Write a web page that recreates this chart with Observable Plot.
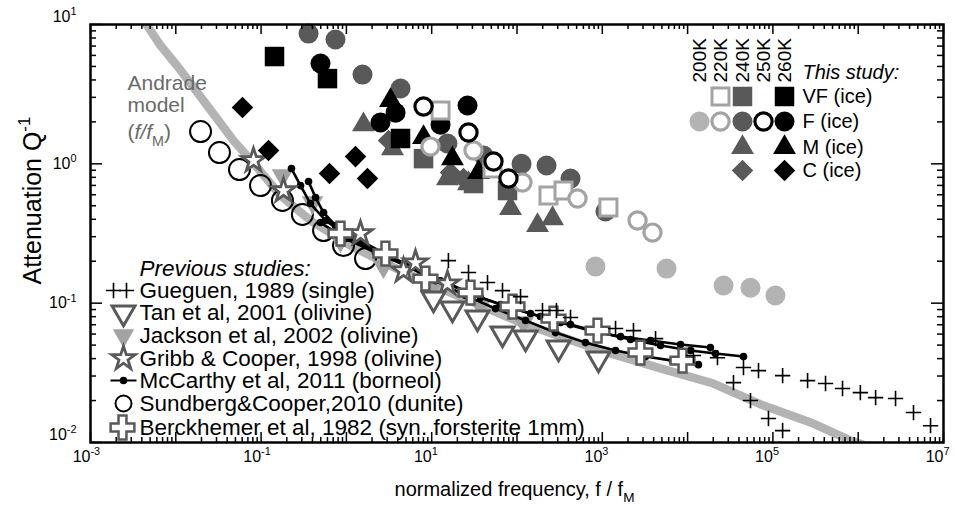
<!DOCTYPE html>
<html><head><meta charset="utf-8">
<script src="https://cdn.jsdelivr.net/npm/d3@7"></script>
<script src="https://cdn.jsdelivr.net/npm/@observablehq/plot@0.6"></script>
<style>
html,body{margin:0;padding:0;background:#fff;}
#chart svg{display:block;}
</style></head><body><div id="chart"></div>
<script>
// ---------- DATA: [normalized frequency f/fM, attenuation Q^-1] ----------
const andrade = [[4.53e-3,10],[6.62e-3,7.06],[1.076e-2,4.91],[2.11e-2,2.84],[4.74e-2,1.47],[8.59e-2,0.973],[0.169,0.592],[0.379,0.392],[1.117,0.259],[4.31,0.171],[16.6,0.119],[110,0.0726],[953,0.0457],[4810,0.0340],[20100,0.0265],[77600,0.0184],[299000,0.01368],[813000,0.01033],[1.12e6,0.00966]];

// This study (ice)
const vf260 = [[0.1436,5.89],[0.600,4.09],[4.31,1.52]];
const f260  = [[0.497,5.25],[2.51,1.98],[3.77,2.33],[26.3,2.62],[12.7,1.91]];
const m260  = [[3.29,2.85],[8.02,1.545],[17.5,1.09],[35.4,0.867]];
const c260  = [[0.0605,2.54],[0.1222,1.245],[0.634,0.851],[1.279,1.127],[1.766,0.784]];
const f240  = [[0.360,8.61],[0.745,7.80],[1.545,4.37],[4.31,3.47],[15.3,1.40],[40.5,1.148],[113,1.00],[222,0.973],[424,0.784],[1090,0.455]];
const vf240 = [[8.02,1.09],[30.9,0.722],[77.4,0.643]];
const m240  = [[1.585,1.91],[3.47,1.288],[15.3,0.784],[27.0,0.722],[83.9,0.478],[174,0.361],[261,0.405]];
const c240  = [[3.12,1.47],[16.6,0.867],[23.6,0.784]];
const vf220 = [[12.7,2.41],[51.6,0.925],[234,0.592],[351,0.643],[1180,0.486]];
const f220  = [[9.68,1.33],[30.9,1.245],[116,0.734],[512,0.564],[2590,0.392],[3880,0.321]];
const f250  = [[8.02,2.58],[27.0,1.68],[53.0,1.04],[79.4,0.784]];
const f200  = [[832,0.183],[5660,0.177],[26400,0.134],[54600,0.129],[107000,0.1135]];

// Previous studies
const gueguen = [[15.7,0.202],[27.0,0.166],[45.1,0.1406],[67.6,0.123],[110,0.1114],[199,0.0885],[290,0.0885],[424,0.0789],[1430,0.0658],[2320,0.0635],[4210,0.0557],[11700,0.0421],[22400,0.0406],[45200,0.0345],[67800,0.0328],[130000,0.0302],[255000,0.0278],[414000,0.0265],[655000,0.0244],[1.06e6,0.0228],[1.60e6,0.0210],[2.74e6,0.0207],[4.45e6,0.0164],[7.05e6,0.0132],[34500,0.0269],[54600,0.0200],[88700,0.01486],[130000,0.01216]];
const tan = [[10.5,0.1079],[17.5,0.0914],[34.4,0.0789],[67.6,0.0605],[126,0.0566],[307,0.0480],[902,0.0400]];
const jackson = [[0.178,0.824],[0.401,0.527],[0.853,0.281],[2.72,0.183],[9.68,0.123],[37.3,0.0962],[119,0.0726]];
const gribb = [[0.0815,1.057],[0.183,0.643],[1.462,0.316],[4.67,0.171],[6.46,0.195],[15.3,0.138]];
const mcCarthyA = [[0.227,0.925],[0.290,0.698],[0.379,0.519],[0.569,0.392],[1.117,0.291],[2.51,0.227],[5.64,0.183],[12.7,0.145],[28.5,0.117],[64.1,0.0977],[144,0.0842],[324,0.0726],[728,0.0635],[1635,0.0575],[3670,0.0540],[8260,0.0505],[18500,0.0480]];
const mcCarthyB = [[0.360,0.746],[0.435,0.573],[0.540,0.447],[0.745,0.361],[1.462,0.281],[3.29,0.216],[7.40,0.171],[16.6,0.136],[37.3,0.1096],[83.9,0.0929],[188,0.0802],[424,0.0702],[953,0.0615],[2140,0.0548],[4810,0.0497],[10800,0.0457],[21200,0.0435],[45200,0.0414]];
const mcCarthyC = [[0.497,0.379],[0.975,0.291],[2.19,0.231],[4.93,0.186],[11.1,0.145],[24.9,0.1135],[56.0,0.0914],[126,0.0750],[283,0.0615],[635,0.0521],[1430,0.0457],[3210,0.0414],[6650,0.0387],[13400,0.0362]];
const sundberg = [[0.0195,1.706],[0.0325,1.205],[0.0558,0.910],[0.0984,0.698],[0.178,0.546],[0.305,0.433],[0.540,0.332],[0.925,0.259],[1.675,0.209]];
const berckhemer = [[0.853,0.316],[2.87,0.227],[8.45,0.150],[28.5,0.119],[88.5,0.0946],[268,0.0775],[879,0.0635],[2800,0.0442],[8710,0.0387]];

// Axes
const xDomain = [1e-3, 1e7];
const yDomain = [1e-2, 10];
const xLabelTicks = [1e-3, 1e-1, 1e1, 1e3, 1e5, 1e7];
const yLabelTicks = [1e-1, 1];
const yLabelEnds = [1e-2, 10];

// Legend texts
const temps = ["200K","220K","240K","250K","260K"];
const iceRows = ["VF (ice)","F (ice)","M (ice)","C (ice)"];
const previousLabels = ["Gueguen, 1989 (single)","Tan et al, 2001 (olivine)","Jackson et al, 2002 (olivine)","Gribb & Cooper, 1998 (olivine)","McCarthy et al, 2011 (borneol)","Sundberg&Cooper,2010 (dunite)","Berckhemer et al, 1982 (syn. forsterite 1mm)"];

// ---------- LAYOUT / STYLE ----------
const W = 955, H = 507, ML = 90, MR = 12, MT = 24, MB = 65;
const FW = W - ML - MR, FH = H - MT - MB;
const FONT = '"Liberation Sans", Arial, Helvetica, sans-serif';
const DARK = "#595959", LIGHT = "#b3b3b3", MID = "#a3a3a3";

const styles = {
  vf220: {symbol:"square", r:9.6, fill:"white", stroke:MID, strokeWidth:3},
  vf240: {symbol:"square", r:11, fill:DARK},
  vf260: {symbol:"square", r:11, fill:"black"},
  f200: {symbol:"circle", r:10, fill:LIGHT},
  f220: {symbol:"circle", r:8.6, fill:"white", stroke:MID, strokeWidth:3.2},
  f240: {symbol:"circle", r:10, fill:DARK},
  f250: {symbol:"circle", r:8.6, fill:"white", stroke:"black", strokeWidth:3.2},
  f260: {symbol:"circle", r:10, fill:"black"},
  m240: {symbol:"triangle", r:8.5, fill:DARK},
  m260: {symbol:"triangle", r:8.5, fill:"black"},
  c240: {symbol:"square", rotate:45, r:8.6, fill:DARK},
  c260: {symbol:"square", rotate:45, r:8.6, fill:"black"},
  gueguen: {symbol:"plus", r:5, fill:"none", stroke:"black", strokeWidth:1.6},
  tan: {symbol:"triangle", rotate:180, r:8.5, fill:"white", stroke:DARK, strokeWidth:3},
  jackson: {symbol:"triangle", rotate:180, r:8, fill:MID},
  gribb: {symbol:"star", r:7.4, fill:"white", stroke:DARK, strokeWidth:2.8},
  mccarthy: {symbol:"circle", r:3.8, fill:"black"},
  sundberg: {symbol:"circle", r:10.5, fill:"none", stroke:"black", strokeWidth:2},
  berckhemer: {symbol:"cross", r:10, fill:"white", stroke:DARK, strokeWidth:2.5}
};

const X = d => d[0], Y = d => d[1];
const pts = (data, key) => Plot.dot(data, {x: X, y: Y, ...styles[key]});
const at = (px, py) => ({frameAnchor: "top-left", dx: px - ML, dy: py - MT});
const legendDot = (key, px, py, extra = {}) => Plot.dot([0], {...at(px, py), ...styles[key], ...extra});
const label = (txt, px, py, opts = {}) => Plot.text([txt], {...at(px, py), text: d => d, fill: "black", textAnchor: "middle", lineAnchor: "middle", ...opts});

// tick values
const xMajor = d3.range(-3, 8).map(e => 10 ** e);
const yMajor = d3.range(-2, 2).map(e => 10 ** e);
const xMinor = [], yMinor = [];
for (let e = -3; e < 7; e++) for (let m = 2; m < 10; m++) xMinor.push(m * 10 ** e);
for (let e = -2; e < 1; e++) for (let m = 2; m < 10; m++) yMinor.push(m * 10 ** e);
const fmt = d => `10^{${Math.round(Math.log10(d))}}`;

const tickStyle = {stroke: "black", strokeWidth: 1.5};
const ticks = [
  Plot.tickX(xMajor, {x: d => d, insetTop: FH - 10, ...tickStyle}),
  Plot.tickX(xMinor, {x: d => d, insetTop: FH - 5, ...tickStyle}),
  Plot.tickX(xMajor, {x: d => d, insetBottom: FH - 10, ...tickStyle}),
  Plot.tickX(xMinor, {x: d => d, insetBottom: FH - 5, ...tickStyle}),
  Plot.tickY(yMajor, {y: d => d, insetRight: FW - 12, ...tickStyle}),
  Plot.tickY(yMinor, {y: d => d, insetRight: FW - 6, ...tickStyle}),
  Plot.tickY(yMajor, {y: d => d, insetLeft: FW - 12, ...tickStyle}),
  Plot.tickY(yMinor, {y: d => d, insetLeft: FW - 6, ...tickStyle})
];

// legend geometry
const colX = [699, 720, 742, 763, 784];
const rowY = [96, 121, 147, 170];
const prevRowY = [290, 312, 335, 358, 380, 403, 427];
const mcLegendSymbol = {draw(ctx) { ctx.moveTo(-13, 0); ctx.lineTo(13, 0); }};

const marks = [
  Plot.line(andrade, {x: X, y: Y, stroke: LIGHT, strokeWidth: 8.5, clip: true}),
  pts(sundberg, "sundberg"),
  pts(jackson, "jackson"),
  ...[mcCarthyA, mcCarthyB, mcCarthyC].flatMap(s => [
    Plot.line(s, {x: X, y: Y, stroke: "black", strokeWidth: 2.6}),
    pts(s, "mccarthy")
  ]),
  pts(gribb, "gribb"),
  pts(tan, "tan"),
  pts(berckhemer, "berckhemer"),
  pts(gueguen, "gueguen"),
  pts(f240, "f240"), pts(vf240, "vf240"), pts(m240, "m240"), pts(c240, "c240"),
  pts(f200, "f200"),
  pts(vf260, "vf260"), pts(f260, "f260"), pts(m260, "m260"), pts(c260, "c260"),
  pts(vf220, "vf220"), pts(f220, "f220"), pts(f250, "f250"),
  ...ticks,
  Plot.frame({stroke: "black", strokeWidth: 2.5}),
  // tick labels
  Plot.text(xLabelTicks, {x: d => d, frameAnchor: "bottom", dy: 14, dx: -17.8, textAnchor: "start", lineAnchor: "middle", text: fmt, fontSize: 16, fill: "black"}),
  Plot.text(yLabelTicks, {y: d => d, frameAnchor: "left", dx: -14, textAnchor: "end", lineAnchor: "middle", text: fmt, fontSize: 16, fill: "black"}),
  Plot.text(yLabelEnds, {y: d => d, frameAnchor: "left", dx: -14, dy: -8, textAnchor: "end", lineAnchor: "middle", text: fmt, fontSize: 16, fill: "black"}),
  // axis titles
  label("Attenuation Q^{-1}", 32, 200, {rotate: -90, fontSize: 25}),
  label("normalized frequency, f / f_{M}", 514, 489, {fontSize: 20}),
  // Andrade annotation
  label("Andrade", 127, 83, {textAnchor: "start", fontSize: 21, fill: "#6a6a6a"}),
  label("model", 127, 105, {textAnchor: "start", fontSize: 21, fill: "#6a6a6a"}),
  label("(*f/f*_{M})", 127, 132, {textAnchor: "start", fontSize: 21, fill: "#6a6a6a"}),
  // This study legend
  ...temps.map((t, i) => label(t, colX[i], 82, {rotate: -90, textAnchor: "start", fontSize: 19})),
  label("This study:", 802, 72, {textAnchor: "start", fontSize: 20, fontStyle: "italic"}),
  ...iceRows.map((t, i) => label(t, 802, rowY[i], {textAnchor: "start", fontSize: 20})),
  legendDot("vf220", colX[1], rowY[0]), legendDot("vf240", colX[2], rowY[0]), legendDot("vf260", colX[4], rowY[0]),
  legendDot("f200", colX[0], rowY[1]), legendDot("f220", colX[1], rowY[1]), legendDot("f240", colX[2], rowY[1]),
  legendDot("f250", colX[3], rowY[1]), legendDot("f260", colX[4], rowY[1]),
  legendDot("m240", colX[2], rowY[2]), legendDot("m260", colX[4], rowY[2]),
  legendDot("c240", colX[2], rowY[3]), legendDot("c260", colX[4], rowY[3]),
  // Previous studies legend
  label("Previous studies:", 139, 268, {textAnchor: "start", fontSize: 22.5, fontStyle: "italic"}),
  ...previousLabels.map((t, i) => label(t, 139, prevRowY[i], {textAnchor: "start", fontSize: 22.5})),
  legendDot("gueguen", 113, prevRowY[0]), legendDot("gueguen", 126, prevRowY[0]),
  legendDot("tan", 123, prevRowY[1]),
  legendDot("jackson", 123, prevRowY[2]),
  legendDot("gribb", 123, prevRowY[3]),
  legendDot("mccarthy", 123, prevRowY[4], {symbol: mcLegendSymbol, fill: "none", stroke: "black", strokeWidth: 2}),
  legendDot("mccarthy", 123, prevRowY[4]),
  legendDot("sundberg", 123, prevRowY[5], {r: 8}),
  legendDot("berckhemer", 122, prevRowY[6])
];

const svg = Plot.plot({
  width: W, height: H,
  marginLeft: ML, marginRight: MR, marginTop: MT, marginBottom: MB,
  style: {fontFamily: FONT, background: "white", overflow: "visible"},
  x: {type: "log", domain: xDomain, axis: null},
  y: {type: "log", domain: yDomain, axis: null},
  marks
});
document.getElementById("chart").appendChild(svg);

// Rich text: ^{sup}, _{sub}, *italic*
function richify(root) {
  root.querySelectorAll("text").forEach(t => {
    const s = t.textContent;
    if (!/[\^_]\{|\*/.test(s)) return;
    const fs = parseFloat(getComputedStyle(t).fontSize) || 16;
    const parts = s.split(/(\^\{[^}]*\}|_\{[^}]*\}|\*[^*]*\*)/).filter(p => p !== "");
    t.textContent = "";
    let shift = 0;
    for (const p of parts) {
      const ts = document.createElementNS("http://www.w3.org/2000/svg", "tspan");
      let target = 0, txt = p;
      if (p.startsWith("^{")) { txt = p.slice(2, -1); target = -0.42 * fs; ts.setAttribute("font-size", (0.68 * fs) + "px"); }
      else if (p.startsWith("_{")) { txt = p.slice(2, -1); target = 0.32 * fs; ts.setAttribute("font-size", (0.68 * fs) + "px"); }
      else if (p.startsWith("*")) { txt = p.slice(1, -1); ts.setAttribute("font-style", "italic"); }
      const dy = target - shift;
      if (dy) ts.setAttribute("dy", dy);
      shift = target;
      ts.textContent = txt;
      t.appendChild(ts);
    }
  });
}
richify(svg);
</script></body></html>
